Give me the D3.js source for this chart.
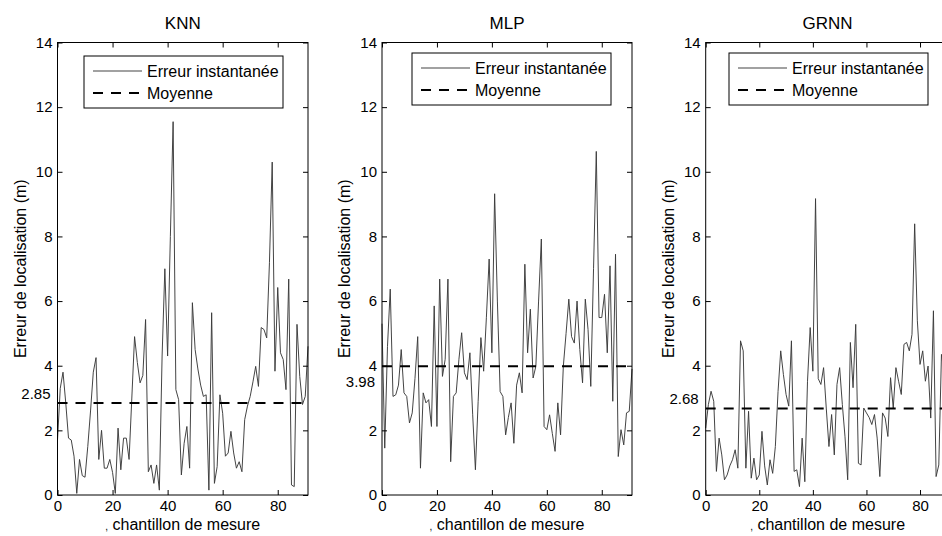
<!DOCTYPE html>
<html><head><meta charset="utf-8">
<script src="https://cdn.jsdelivr.net/npm/d3@7"></script>
<style>
body{margin:0;background:#fff}
svg{display:block}
text{font-family:"Liberation Sans",Arial,Helvetica,sans-serif;fill:#000}
</style>
</head><body><svg id="c" width="942" height="536"></svg>
<script>
const titles = ["KNN", "MLP", "GRNN"];
const knnErr = [1.7,3.3,3.8,2.85,1.76,1.7,1.2,0.05,1.1,0.6,
  0.55,1.5,2.6,3.8,4.25,1.1,2.0,0.83,0.83,1.1,
  0.7,0.05,2.07,0.78,1.76,1.76,1.1,3.0,4.9,4.1,
  3.47,3.7,5.43,0.72,0.93,0.36,0.93,0.15,4.3,7.0,
  4.3,8.0,11.55,3.26,2.95,0.62,1.6,2.12,0.83,5.95,
  4.5,3.9,3.4,3.05,3.1,0.15,5.64,0.36,0.88,3.1,
  2.53,1.2,1.3,1.97,1.3,0.83,1.03,0.72,2.33,2.75,
  3.05,3.5,3.98,3.36,5.18,5.12,4.86,7.2,10.3,3.83,
  6.42,4.4,4.19,3.26,6.68,0.31,0.26,5.28,3.67,2.8,
  3.05,4.6];
const mlpErr = [5.3,1.45,4.6,6.37,3.05,3.1,3.4,4.5,3.16,3.05,
  2.23,2.54,3.6,4.9,0.83,3.16,2.85,2.95,2.12,5.85,
  2.12,6.68,3.67,4.2,6.68,1.03,3.05,3.16,4.2,5.02,
  3.78,3.57,4.4,2.5,0.78,2.9,4.87,3.83,5.5,7.3,
  4.4,9.32,6.0,3.2,3.05,1.86,2.4,2.85,1.6,3.4,
  3.78,3.16,7.14,4.4,5.75,3.62,3.98,6.0,7.92,2.12,
  2.02,2.48,1.9,1.35,2.85,1.86,3.98,5.0,6.06,4.9,
  4.7,6.0,4.5,3.47,6.06,5.12,3.36,7.0,10.63,5.49,
  5.49,6.21,4.4,7.09,2.9,7.45,1.19,2.02,1.55,2.54,
  2.59,3.9];
const grnnErr = [2.07,2.8,3.21,2.9,0.73,1.76,1.24,0.47,0.62,0.9,
  1.09,1.4,0.83,4.77,4.46,0.83,2.59,0.52,1.14,0.47,
  0.62,1.97,0.9,0.31,1.09,0.67,1.5,3.2,4.46,3.73,
  3.11,2.75,4.77,0.73,0.78,0.26,1.76,0.41,3.52,5.18,
  3.83,9.17,3.6,3.42,3.94,2.69,1.5,2.49,1.24,3.42,
  3.94,2.8,1.8,0.47,4.72,3.32,5.28,0.98,0.93,2.69,
  2.54,2.4,2.18,2.49,1.76,0.57,2.54,2.38,1.81,3.63,
  2.69,3.94,3.52,3.11,4.66,4.72,4.46,4.97,8.39,5.39,
  4.04,4.46,3.52,3.99,2.38,5.7,0.57,0.93,4.35,3.8,
  3.2,2.9];
const meanErr = [2.85, 3.98, 2.68];
const meanLabels = ["2.85", "3.98", "2.68"];
const xTicks = [0, 20, 40, 60, 80];
const yTicks = [0, 2, 4, 6, 8, 10, 12, 14];
const legendLabels = ["Erreur instantanée", "Moyenne"];
const yLabel = "Erreur de localisation (m)";
const xLabelMark = ",";
const xLabel = " chantillon de mesure";

const series = [knnErr, mlpErr, grnnErr];
const panels = [{left:57.5,right:308},{left:382,right:632},{left:705.7,right:949.5}];
const plotTop = 42.5, plotBottom = 495;
const meanDy = [-9, 15, -10];
const legendTop = [56, 53, 53];
const legendLeft = [84, 412, 729];
const lineColor = "#3a3a3a";
const svg = d3.select("#c");

series.forEach((vals, k) => {
  const p = panels[k];
  const x = d3.scaleLinear().domain([0, 91]).range([p.left, p.right]);
  const y = d3.scaleLinear().domain([0, 14]).range([plotBottom, plotTop]);
  const g = svg.append("g");

  g.append("path")
    .datum(vals)
    .attr("fill", "none")
    .attr("stroke", lineColor)
    .attr("stroke-width", 0.95)
    .attr("stroke-linejoin", "round")
    .attr("d", d3.line().x((d, i) => x(i)).y(d => y(d)));

  g.append("line")
    .attr("x1", x(0)).attr("x2", x(91))
    .attr("y1", y(meanErr[k])).attr("y2", y(meanErr[k]))
    .attr("stroke", "#000").attr("stroke-width", 2)
    .attr("stroke-dasharray", "10,8");

  const styleAxis = sel => {
    sel.select(".domain").remove();
    sel.selectAll(".tick line").attr("stroke", "#000");
    sel.selectAll("text").attr("font-size", 15).style("font-family", "'Liberation Sans',Arial,sans-serif");
  };
  g.append("g").attr("transform", `translate(0,${plotBottom})`)
    .call(d3.axisBottom(x).tickValues(xTicks).tickSize(-5).tickPadding(5)).call(styleAxis);
  g.append("g").attr("transform", `translate(0,${plotTop})`)
    .call(d3.axisTop(x).tickValues(xTicks).tickSize(-5).tickFormat("")).call(styleAxis);
  g.append("g").attr("transform", `translate(${p.left},0)`)
    .call(d3.axisLeft(y).tickValues(yTicks).tickSize(-5).tickPadding(5)).call(styleAxis);
  g.append("g").attr("transform", `translate(${p.right},0)`)
    .call(d3.axisRight(y).tickValues(yTicks).tickSize(-5).tickFormat("")).call(styleAxis);

  g.append("rect")
    .attr("x", p.left).attr("y", plotTop)
    .attr("width", p.right - p.left).attr("height", plotBottom - plotTop)
    .attr("fill", "none").attr("stroke", "#000").attr("stroke-width", 1);

  g.append("text")
    .attr("x", p.left - 7).attr("y", y(meanErr[k]) + meanDy[k])
    .attr("text-anchor", "end").attr("dy", "0.35em")
    .attr("font-size", 15).text(meanLabels[k]);

  g.append("text")
    .attr("x", (p.left + p.right) / 2).attr("y", 29)
    .attr("text-anchor", "middle").attr("font-size", 17).text(titles[k]);

  const xl = g.append("text")
    .attr("x", (p.left + p.right) / 2).attr("y", 530)
    .attr("text-anchor", "middle").attr("font-size", 16);
  xl.append("tspan").attr("font-size", 10).text(xLabelMark);
  xl.append("tspan").text(xLabel);

  g.append("text")
    .attr("transform", `translate(${p.left - 32},${(plotTop + plotBottom) / 2}) rotate(-90)`)
    .attr("text-anchor", "middle").attr("font-size", 16).text(yLabel);

  const lx = legendLeft[k], ly = legendTop[k];
  const lg = g.append("g");
  lg.append("rect").attr("x", lx).attr("y", ly).attr("width", 199).attr("height", 52)
    .attr("fill", "#fff").attr("stroke", "#000").attr("stroke-width", 1);
  lg.append("line").attr("x1", lx + 9).attr("x2", lx + 58).attr("y1", ly + 15).attr("y2", ly + 15)
    .attr("stroke", lineColor).attr("stroke-width", 0.95);
  lg.append("line").attr("x1", lx + 9).attr("x2", lx + 58).attr("y1", ly + 37).attr("y2", ly + 37)
    .attr("stroke", "#000").attr("stroke-width", 2).attr("stroke-dasharray", "10,8");
  legendLabels.forEach((t, j) => {
    lg.append("text").attr("x", lx + 63).attr("y", ly + 15 + j * 22).attr("dy", "0.35em")
      .attr("font-size", 16).text(t);
  });
});
</script>
</body></html>
